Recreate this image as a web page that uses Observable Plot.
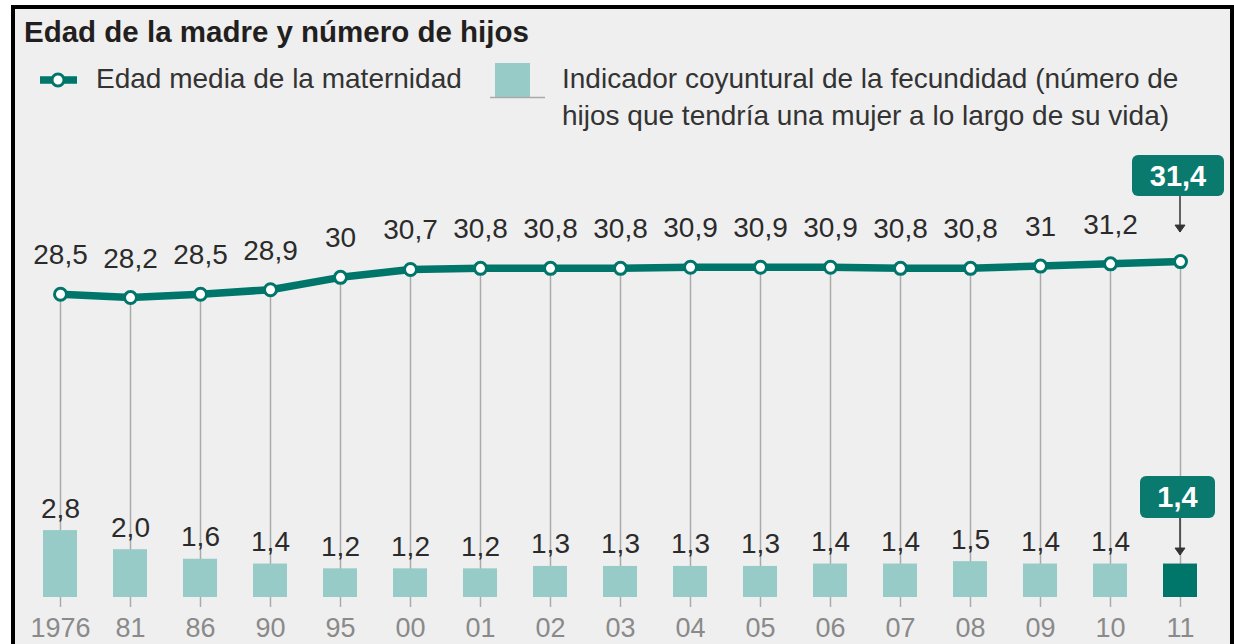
<!DOCTYPE html>
<html>
<head>
<meta charset="utf-8">
<script src="https://cdn.jsdelivr.net/npm/d3@7"></script>
<script src="https://cdn.jsdelivr.net/npm/@observablehq/plot@0.6"></script>
<style>
  html, body { margin: 0; padding: 0; background: #fff; width: 1234px; height: 644px; overflow: hidden;
    font-family: "Liberation Sans", Arial, sans-serif; }
  #frame { position: absolute; left: 11px; top: 5px; width: 1223px; height: 720px; box-sizing: border-box;
    border: 4px solid #000; background: #efefef; }
  .abs { position: absolute; white-space: nowrap; line-height: 1; }
  #title { left: 24px; top: 17px; font-size: 29.5px; font-weight: bold; color: #231f20; }
  #leg1 { left: 96px; top: 65px; font-size: 28px; color: #333; }
  #leg2 { left: 562px; top: 60px; font-size: 28px; line-height: 37px; color: #333; }
  #legsw { position: absolute; left: 0; top: 0; }
  #chart { position: absolute; left: 0; top: 140px; }
</style>
</head>
<body>
<div id="frame"></div>
<div id="title" class="abs">Edad de la madre y número de hijos</div>
<svg id="legsw" width="600" height="110">
  <line x1="40" x2="77" y1="80" y2="80" stroke="#00756a" stroke-width="7.5"></line>
  <circle cx="58" cy="80" r="6" fill="#fff" stroke="#00756a" stroke-width="3"></circle>
  <rect x="495" y="63" width="35" height="34" fill="#96cbc7"></rect>
  <line x1="490" x2="545" y1="97.5" y2="97.5" stroke="#aaa" stroke-width="1.5"></line>
</svg>
<div id="leg1" class="abs">Edad media de la maternidad</div>
<div id="leg2" class="abs">Indicador coyuntural de la fecundidad (número de<br>hijos que tendría una mujer a lo largo de su vida)</div>
<div id="chart"></div>
<script>
// ---- data ----
const years = ["1976","81","86","90","95","00","01","02","03","04","05","06","07","08","09","10","11"];
const edadMedia = [28.5,28.2,28.5,28.9,30,30.7,30.8,30.8,30.8,30.9,30.9,30.9,30.8,30.8,31,31.2,31.4];
const hijosPorMujer = [2.8,2.0,1.6,1.4,1.2,1.2,1.2,1.3,1.3,1.3,1.3,1.4,1.4,1.5,1.4,1.4,1.4];

const data = years.map((year, i) => ({year, edad: edadMedia[i], hijos: hijosPorMujer[i], last: i === years.length - 1}));
const past = data.filter(d => !d.last);
const lastD = data.filter(d => d.last);

const teal = "#00756a";
const lightTeal = "#96cbc7";
const fmtAge = v => String(v).replace(".", ",");
const fmtHijos = v => v.toFixed(1).replace(".", ",");

// the age line lives on its own (compressed) axis, mapped into the shared y scale
const ageToY = d3.scaleLinear().domain([28, 32]).range([12.458, 14.341]);
const ageY = d => ageToY(d.edad);

function annotations(index, scales) {
  const x = scales.x, y = scales.y;
  const bw = x.bandwidth ? x.bandwidth() : 0;
  const g = d3.create("svg:g");
  const d = lastD[0];
  const cx = x(d.year) + bw / 2;
  const boxes = [
    {label: fmtAge(d.edad), anchorY: y(ageY(d)), w: 92, h: 41, dy: -85.5, tip: -29, dx: -2},
    {label: fmtHijos(d.hijos), anchorY: y(d.hijos), w: 75, h: 42, dy: -66.5, tip: -8.5, dx: -2.5}
  ];
  for (const b of boxes) {
    const bcx = cx + b.dx, bcy = b.anchorY + b.dy;
    g.append("rect").attr("x", bcx - b.w / 2).attr("y", bcy - b.h / 2).attr("width", b.w).attr("height", b.h)
      .attr("rx", 6).attr("fill", "#0b7a6e");
    g.append("text").attr("x", bcx).attr("y", bcy).attr("dy", "0.36em").attr("text-anchor", "middle")
      .attr("fill", "#fff").attr("font-weight", "bold").attr("font-size", 29).text(b.label);
    const tipY = b.anchorY + b.tip;
    g.append("line").attr("x1", cx).attr("x2", cx).attr("y1", bcy + b.h / 2).attr("y2", tipY)
      .attr("stroke", "#333").attr("stroke-width", 1.5);
    g.append("path").attr("d", `M${cx - 5},${tipY - 7}L${cx},${tipY}L${cx + 5},${tipY - 7}Z`)
      .attr("fill", "#333").attr("stroke", "#333").attr("stroke-width", 1);
  }
  return g.node();
}

const chart = Plot.plot({
  width: 1234,
  height: 504,
  marginLeft: 5,
  marginRight: 0,
  marginTop: 0,
  marginBottom: 47,
  style: {background: "transparent", fontFamily: "'Liberation Sans', Arial, sans-serif", overflow: "visible"},
  x: {type: "band", domain: years, padding: 0.516, label: null},
  y: {domain: [0, 19], range: [457, 3], axis: null},
  marks: [
    Plot.ruleX(data, {x: "year", y1: 0, y2: ageY, stroke: "#aaa", strokeWidth: 1.5}),
    Plot.barY(past, {x: "year", y: "hijos", fill: lightTeal}),
    Plot.barY(lastD, {x: "year", y: "hijos", fill: teal}),
    Plot.ruleY([0], {x1: years[0], x2: years[years.length - 1], stroke: "#aaa", strokeWidth: 1.5}),
    Plot.axisX({tickSize: 10, tickPadding: 10, fontSize: 27, fill: "#8a8a8a", stroke: "#aaa", strokeWidth: 1.5, label: null}),
    Plot.line(data, {x: "year", y: ageY, stroke: teal, strokeWidth: 7.5}),
    Plot.dot(data, {x: "year", y: ageY, r: 6, fill: "#fff", stroke: teal, strokeWidth: 3}),
    Plot.text(past, {x: "year", y: ageY, text: d => fmtAge(d.edad), dy: -39, fontSize: 28, fill: "#2b2b2b"}),
    Plot.text(past, {x: "year", y: "hijos", text: d => fmtHijos(d.hijos), dy: -22, fontSize: 28, fill: "#2b2b2b"}),
    annotations
  ]
});
document.getElementById("chart").appendChild(chart);
</script>
</body>
</html>
